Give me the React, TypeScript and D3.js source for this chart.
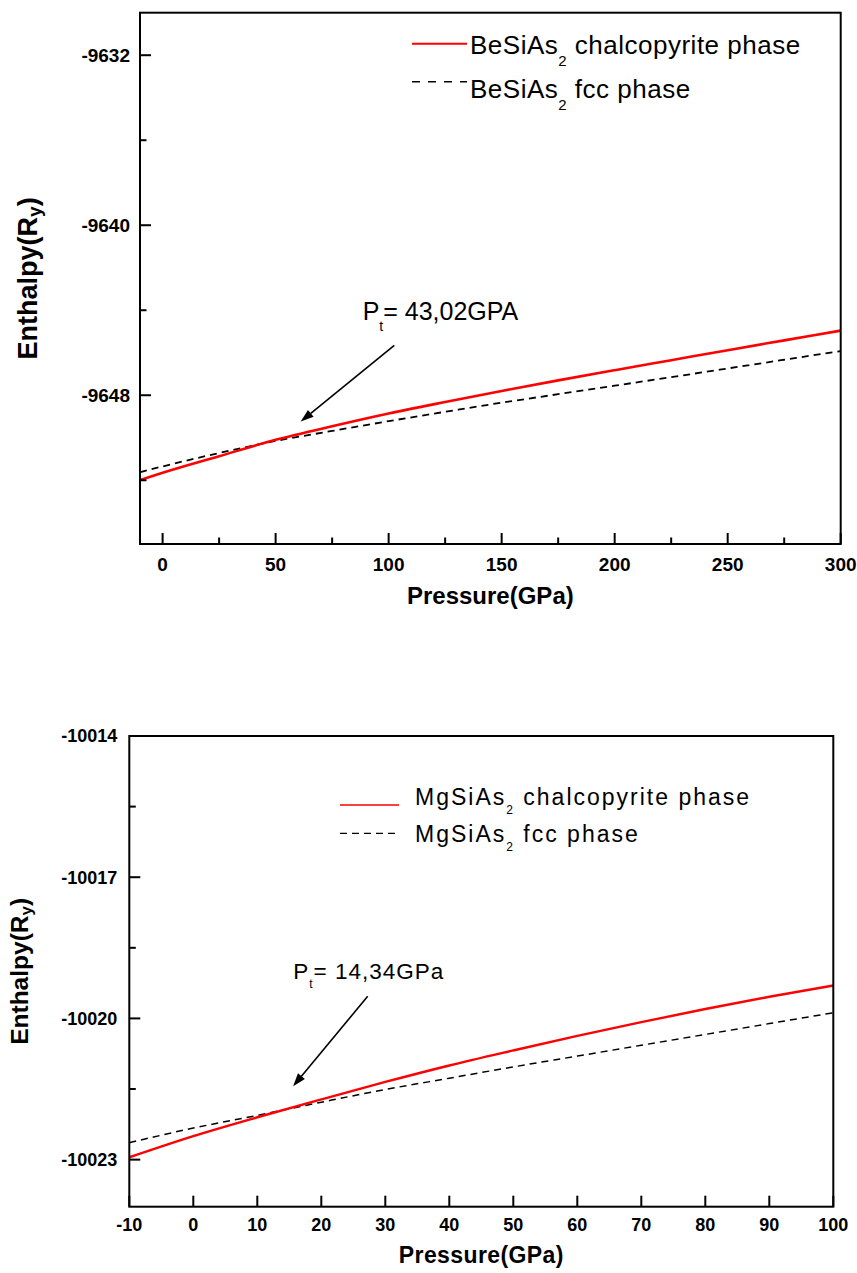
import React from "react";
import * as d3 from "d3";

const FONT = "'Liberation Sans', Arial, Helvetica, sans-serif";

// ---- BeSiAs2: enthalpy vs pressure ----
const beP = [-10, 0, 25, 50, 75, 100, 125, 150, 175, 200, 225, 250, 275, 300];
const beChalco = [-9651.99, -9651.65, -9650.87, -9650.1, -9649.46, -9648.86, -9648.32, -9647.8, -9647.3, -9646.82, -9646.35, -9645.88, -9645.42, -9644.96];
const beFcc = [-9651.62, -9651.35, -9650.72, -9650.15, -9649.68, -9649.22, -9648.78, -9648.35, -9647.95, -9647.55, -9647.15, -9646.74, -9646.33, -9645.92];
const beXTicks = [0, 50, 100, 150, 200, 250, 300];
const beXMinor = [25, 75, 125, 175, 225, 275];
const beYTicks = [-9632, -9640, -9648];
const beYMinor = [-9636, -9644, -9652];

// ---- MgSiAs2: enthalpy vs pressure ----
const mgP = [-10, 0, 10, 20, 30, 40, 50, 60, 70, 80, 90, 100];
const mgChalco = [-10022.95, -10022.5, -10022.1, -10021.72, -10021.35, -10021.0, -10020.68, -10020.37, -10020.08, -10019.8, -10019.54, -10019.3];
const mgFcc = [-10022.64, -10022.33, -10022.06, -10021.78, -10021.51, -10021.27, -10021.03, -10020.8, -10020.57, -10020.34, -10020.11, -10019.88];
const mgXTicks = [-10, 0, 10, 20, 30, 40, 50, 60, 70, 80, 90, 100];
const mgXMinor: number[] = [];
const mgYTicks = [-10014, -10017, -10020, -10023];
const mgYMinor = [-10015.5, -10018.5, -10021.5];

type PanelCfg = {
  id: string;
  left: number; right: number; top: number; bottom: number;
  xDomain: [number, number]; yDomain: [number, number];
  p: number[]; chalco: number[]; fcc: number[];
  xTicks: number[]; xMinor: number[]; yTicks: number[]; yMinor: number[];
  tickFont: number; xLabelBaseline: number; yLabelGap: number;
  majorLen: number; minorLen: number;
  xTitleBaseline: number; xTitleFont: number; xTitleSpacing: number;
  yTitleX: number; yTitleFont: number; yTitleSub: number; yTitleShift: number;
  compound: string;
  legend: { x1: number; x2: number; y1: number; y2: number; tx: number; b1: number; b2: number; font: number; sub: number; subShift: number; spacing: number; redW: number; dashW: number; dash: string };
  redWidth: number; dashWidth: number; dash: string;
  note: { text: string; at: [number, number]; tail: [number, number]; tip: [number, number]; font: number; sub: number; subShift: number; spacing: number };
};

const panels: PanelCfg[] = [
  {
    id: "be",
    left: 140, right: 840.7, top: 12.7, bottom: 544,
    xDomain: [-10, 300], yDomain: [-9655, -9630],
    p: beP, chalco: beChalco, fcc: beFcc,
    xTicks: beXTicks, xMinor: beXMinor, yTicks: beYTicks, yMinor: beYMinor,
    tickFont: 19, xLabelBaseline: 571, yLabelGap: 10,
    majorLen: 11, minorLen: 6.5,
    xTitleBaseline: 604, xTitleFont: 24, xTitleSpacing: 0,
    yTitleX: 37, yTitleFont: 27, yTitleSub: 19, yTitleShift: 4,
    compound: "BeSiAs",
    legend: { x1: 412, x2: 467, y1: 43.7, y2: 81.7, tx: 470, b1: 54, b2: 98, font: 26, sub: 15, subShift: 12, spacing: 0.5, redW: 2, dashW: 1.6, dash: "8,8" },
    redWidth: 2.6, dashWidth: 1.8, dash: "7,5",
    note: { text: "= 43,02GPA", at: [88.5, -9644.47], tail: [102.5, -9645.65], tip: [61.1, -9649.24], font: 25, sub: 14, subShift: 10.5, spacing: 0 },
  },
  {
    id: "mg",
    left: 129.3, right: 833.3, top: 736, bottom: 1206.7,
    xDomain: [-10, 100], yDomain: [-10024, -10014],
    p: mgP, chalco: mgChalco, fcc: mgFcc,
    xTicks: mgXTicks, xMinor: mgXMinor, yTicks: mgYTicks, yMinor: mgYMinor,
    tickFont: 18, xLabelBaseline: 1231, yLabelGap: 12,
    majorLen: 11, minorLen: 6.5,
    xTitleBaseline: 1263, xTitleFont: 23, xTitleSpacing: 0.4,
    yTitleX: 27.5, yTitleFont: 24.5, yTitleSub: 17, yTitleShift: 4,
    compound: "MgSiAs",
    legend: { x1: 340, x2: 399, y1: 805, y2: 833.3, tx: 415, b1: 805, b2: 841.7, font: 23, sub: 12, subShift: 9, spacing: 2, redW: 1.5, dashW: 1.3, dash: "7,5" },
    redWidth: 2.4, dashWidth: 1.5, dash: "7,5",
    note: { text: "= 14,34GPa", at: [15.6, -10019.16], tail: [27.25, -10019.53], tip: [15.6, -10021.44], font: 22.5, sub: 12, subShift: 9, spacing: 1 },
  },
];

function Panel({ c }: { c: PanelCfg }) {
  const x = d3.scaleLinear().domain(c.xDomain).range([c.left, c.right]);
  const y = d3.scaleLinear().domain(c.yDomain).range([c.bottom, c.top]);
  const line = d3
    .line<number>()
    .x((_, i) => x(c.p[i]))
    .y((d) => y(d))
    .curve(d3.curveMonotoneX);

  const tail = [x(c.note.tail[0]), y(c.note.tail[1])];
  const tip = [x(c.note.tip[0]), y(c.note.tip[1])];
  const ang = Math.atan2(tip[1] - tail[1], tip[0] - tail[0]);
  const headLen = 13;
  const headHalf = 4.5;
  const base = [tip[0] - headLen * Math.cos(ang), tip[1] - headLen * Math.sin(ang)];
  const nx = -Math.sin(ang);
  const ny = Math.cos(ang);
  const head = `M${tip[0]},${tip[1]}L${base[0] + nx * headHalf},${base[1] + ny * headHalf}L${base[0] - nx * headHalf},${base[1] - ny * headHalf}Z`;

  const cx = (c.left + c.right) / 2;
  const cy = (c.top + c.bottom) / 2;
  const L = c.legend;

  return (
    <g fontFamily={FONT}>
      <defs>
        <clipPath id={`clip-${c.id}`}>
          <rect x={c.left} y={c.top} width={c.right - c.left} height={c.bottom - c.top} />
        </clipPath>
      </defs>

      <g clipPath={`url(#clip-${c.id})`} fill="none">
        <path d={line(c.fcc) || ""} stroke="#000" strokeWidth={c.dashWidth} strokeDasharray={c.dash} />
        <path d={line(c.chalco) || ""} stroke="#ff0000" strokeWidth={c.redWidth} />
      </g>

      {/* frame */}
      <rect x={c.left} y={c.top} width={c.right - c.left} height={c.bottom - c.top} fill="none" stroke="#000" strokeWidth={2} />

      {/* x ticks, pointing inward */}
      {c.xTicks.map((t) => (
        <g key={`xt${t}`}>
          <line x1={x(t)} x2={x(t)} y1={c.bottom} y2={c.bottom - c.majorLen} stroke="#000" strokeWidth={2} />
          <text x={x(t)} y={c.xLabelBaseline} textAnchor="middle" fontSize={c.tickFont} fontWeight="bold">
            {String(t)}
          </text>
        </g>
      ))}
      {c.xMinor.map((t) => (
        <line key={`xm${t}`} x1={x(t)} x2={x(t)} y1={c.bottom} y2={c.bottom - c.minorLen} stroke="#000" strokeWidth={2} />
      ))}

      {/* y ticks, pointing inward */}
      {c.yTicks.map((t) => (
        <g key={`yt${t}`}>
          <line x1={c.left} x2={c.left + c.majorLen} y1={y(t)} y2={y(t)} stroke="#000" strokeWidth={2} />
          <text x={c.left - c.yLabelGap} y={y(t)} dy="0.36em" textAnchor="end" fontSize={c.tickFont} fontWeight="bold">
            {String(t)}
          </text>
        </g>
      ))}
      {c.yMinor.map((t) => (
        <line key={`ym${t}`} x1={c.left} x2={c.left + c.minorLen} y1={y(t)} y2={y(t)} stroke="#000" strokeWidth={2} />
      ))}

      {/* axis titles */}
      <text x={cx} y={c.xTitleBaseline} textAnchor="middle" fontSize={c.xTitleFont} fontWeight="bold" letterSpacing={c.xTitleSpacing}>
        Pressure(GPa)
      </text>
      <text transform={`translate(${c.yTitleX},${cy}) rotate(-90)`} textAnchor="middle" fontSize={c.yTitleFont} fontWeight="bold">
        Enthalpy(R
        <tspan fontSize={c.yTitleSub} dy={c.yTitleShift}>y</tspan>
        <tspan dy={-c.yTitleShift}>)</tspan>
      </text>

      {/* legend */}
      <line x1={L.x1} x2={L.x2} y1={L.y1} y2={L.y1} stroke="#ff0000" strokeWidth={L.redW} />
      <line x1={L.x1} x2={L.x2} y1={L.y2} y2={L.y2} stroke="#000" strokeWidth={L.dashW} strokeDasharray={L.dash} />
      <text x={L.tx} y={L.b1} fontSize={L.font} letterSpacing={L.spacing}>
        {c.compound}
        <tspan fontSize={L.sub} dy={L.subShift}>2</tspan>
        <tspan dy={-L.subShift}> chalcopyrite phase</tspan>
      </text>
      <text x={L.tx} y={L.b2} fontSize={L.font} letterSpacing={L.spacing}>
        {c.compound}
        <tspan fontSize={L.sub} dy={L.subShift}>2</tspan>
        <tspan dy={-L.subShift}> fcc phase</tspan>
      </text>

      {/* transition pressure annotation */}
      <text x={x(c.note.at[0])} y={y(c.note.at[1])} fontSize={c.note.font} letterSpacing={c.note.spacing}>
        P
        <tspan fontSize={c.note.sub} dy={c.note.subShift}>t</tspan>
        <tspan dy={-c.note.subShift}>{c.note.text}</tspan>
      </text>
      <line x1={tail[0]} y1={tail[1]} x2={base[0]} y2={base[1]} stroke="#000" strokeWidth={1.6} />
      <path d={head} fill="#000" />
    </g>
  );
}

export default function App() {
  return (
    <svg
      width={857}
      height={1273}
      viewBox="0 0 857 1273"
      style={{ position: "absolute", left: 0, top: 0, background: "#fff" }}
    >
      <rect width={857} height={1273} fill="#fff" />
      {panels.map((c) => (
        <Panel key={c.id} c={c} />
      ))}
    </svg>
  );
}
